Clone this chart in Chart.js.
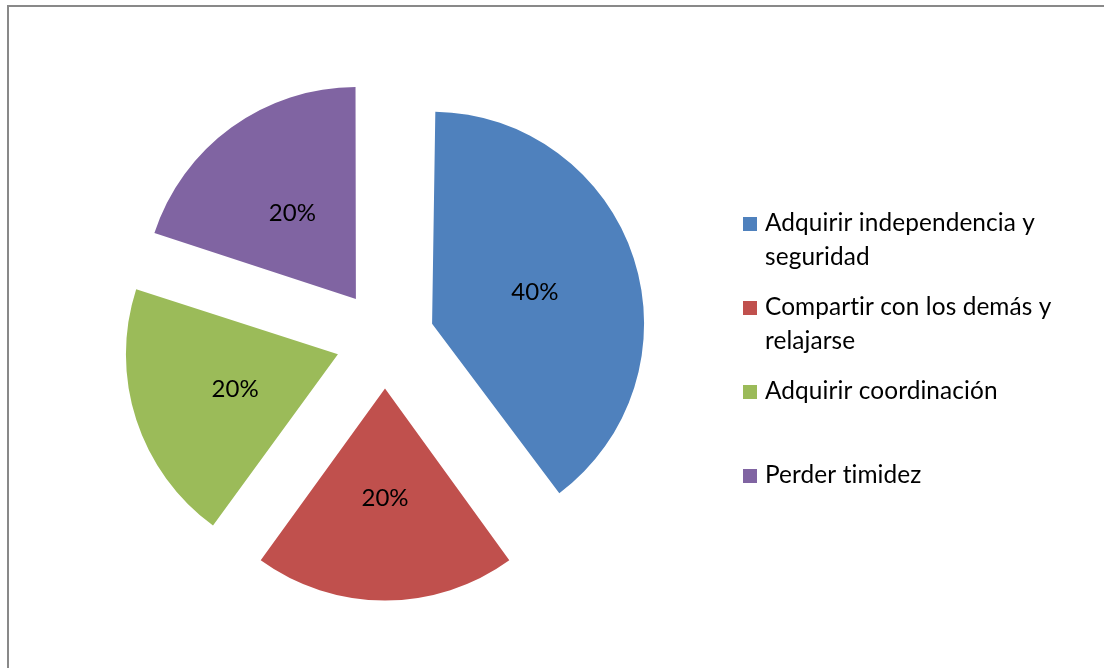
<!DOCTYPE html>
<html>
<head>
  <meta charset="utf-8">
  <title>Beneficios</title>
  <script src="https://cdn.jsdelivr.net/npm/chart.js"></script>
  <style>
    html, body { margin: 0; padding: 0; overflow: hidden; background: #fff; }
    #frame { position: absolute; left: 7px; top: 5px; width: 1200px; height: 800px; border: 2px solid #898989; }
    #wrap { position: absolute; left: 0; top: 0; width: 1104px; height: 668px; }
  </style>
</head>
<body>
  <div id="frame"></div>
  <div id="wrap"><canvas id="myChart"></canvas></div>

<script>
// chart data
const categories = [
  'Adquirir independencia y\nseguridad',
  'Compartir con los demás y\nrelajarse',
  'Adquirir coordinación',
  'Perder timidez'
];
const values = [40, 20, 20, 20];
const colors = ['#4F81BD', '#C0504D', '#9BBB59', '#8064A2'];

const FONT = 'Lato, "Open Sans", sans-serif';
const pieRadius = 212;
const explode = 49.5; // distance each slice is pulled out

// Chart.js grows the radius of exploded slices a bit, undo that so all slices match
const sameRadius = {
  id: 'sameRadius',
  afterDatasetsUpdate(chart) {
    chart.getDatasetMeta(0).data.forEach(arc => {
      const fix = 1 - Math.sin(Math.min(Math.PI, arc.circumference));
      arc.outerRadius = pieRadius - explode * fix;
    });
  }
};

// percentage labels inside the slices
const sliceLabels = {
  id: 'sliceLabels',
  afterDatasetsDraw(chart) {
    const ctx = chart.ctx;
    const total = values.reduce((a, b) => a + b, 0);
    ctx.save();
    ctx.font = '24px ' + FONT;
    ctx.fillStyle = '#000';
    ctx.textAlign = 'center';
    ctx.textBaseline = 'middle';
    chart.getDatasetMeta(0).data.forEach((arc, i) => {
      const mid = (arc.startAngle + arc.endAngle) / 2;
      const r = explode + pieRadius * 0.51;
      const pct = Math.round(values[i] / total * 100) + '%';
      ctx.fillText(pct, arc.x + Math.cos(mid) * r, arc.y + Math.sin(mid) * r + 2);
    });
    ctx.restore();
  }
};

// legend on the right, Excel style
const sideLegend = {
  id: 'sideLegend',
  afterDraw(chart) {
    const ctx = chart.ctx;
    ctx.save();
    ctx.font = '24.4px ' + FONT;
    ctx.letterSpacing = '0.1px'; // also stops the "ti" ligature
    ctx.textBaseline = 'alphabetic';
    categories.forEach((name, i) => {
      const top = 217 + i * 84;
      ctx.fillStyle = colors[i];
      ctx.fillRect(743, top, 14, 14);
      ctx.fillStyle = '#000';
      name.split('\n').forEach((line, k) => {
        ctx.fillText(line, 765, top + 14 + k * 34);
      });
    });
    ctx.restore();
  }
};

const ctx = document.getElementById('myChart');
const chart = new Chart(ctx, {
  type: 'pie',
  data: {
    labels: categories,
    datasets: [{
      data: values,
      backgroundColor: colors,
      borderWidth: 0,
      offset: explode * 4
    }]
  },
  options: {
    responsive: true,
    maintainAspectRatio: false,
    animation: false,
    radius: pieRadius,
    layout: { padding: { left: 0, right: 334, top: 10, bottom: 0 } },
    plugins: {
      legend: { display: false },
      tooltip: { enabled: false }
    }
  },
  plugins: [sameRadius, sliceLabels, sideLegend]
});
</script>
</body>
</html>
